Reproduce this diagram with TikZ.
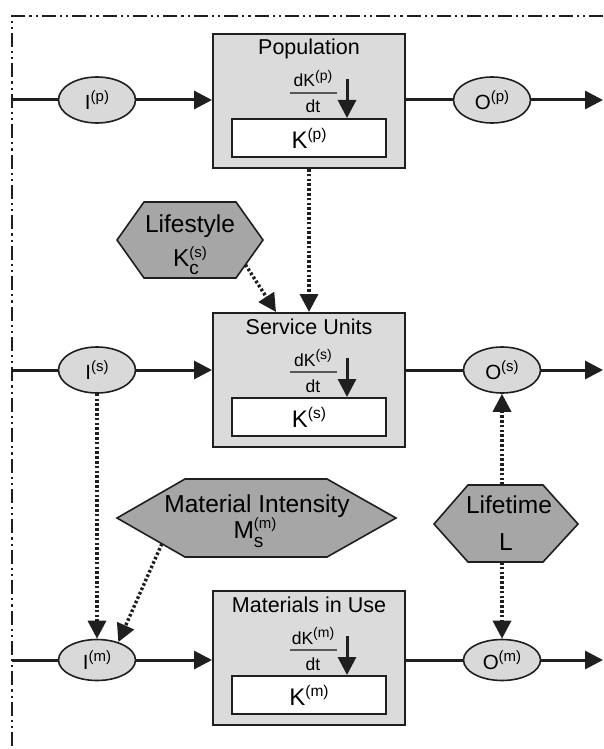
\documentclass[tikz,border=0pt]{standalone}
\usepackage{fontspec}
\setmainfont{Liberation Sans}
\usetikzlibrary{arrows.meta,shapes.geometric,calc}
\newcommand\fs[1]{\fontsize{#1}{#1}\selectfont}
\newcommand\sps[2]{\raisebox{0.38em}{\fs{#1}#2}}
% sup, sub, sup size, sub size, raise, lower
\newcommand\subsup[6]{\rlap{\raisebox{-#6pt}{\fs{#4}#2}}\raisebox{#5pt}{\fs{#3}#1}}
\definecolor{boxgray}{gray}{0.86}
\definecolor{ellgray}{gray}{0.85}
\definecolor{hexgray}{gray}{0.65}
\definecolor{ink}{gray}{0.12}
\begin{document}
\begin{tikzpicture}[x=1pt,y=-1pt,
  border/.style={draw=ink, line width=2.2pt, dash pattern=on 14pt off 4pt on 2.2pt off 4pt on 2.2pt off 4pt},
  flow/.style={draw=ink, line width=3pt},
  tip/.style={-{Triangle[length=18pt,width=18pt]}},
  dots/.style={draw=ink, line width=3.4pt, dash pattern=on 2.6pt off 2.2pt},
  ell/.style={ellipse, draw=ink, line width=1.6pt, fill=ellgray, minimum width=77pt, inner sep=0pt, font=\fs{20.5}},
  stockbox/.style={rectangle, draw=ink, line width=2pt, fill=boxgray, minimum width=192pt, minimum height=134pt, inner sep=0pt},
  innerbox/.style={rectangle, draw=ink, line width=2pt, fill=white, minimum width=154pt, minimum height=38pt, inner sep=0pt, font=\fs{24}},
  titletext/.style={inner sep=0pt, font=\fs{21.5}},
  fractext/.style={inner sep=0pt, font=\fs{17.5}},
  fracline/.style={draw=ink!75, line width=1.8pt},
  hexa/.style={draw=ink, line width=1.6pt, fill=hexgray, line join=miter},
  htext/.style={inner sep=0pt, font=\fs{24.5}},
]
\useasboundingbox (0,0) rectangle (603,749);
\fill[white] (0,0) rectangle (603,749);
% frame
\coordinate (bTL) at (12,16);
\coordinate (bTR) at (603,16);
\coordinate (bBL) at (12,749);
\draw[border] (bTR) -- (bTL) -- (bBL);

% three stock blocks with their flows
\foreach \n/\t/\y/\ox/\eh/\ttl in {p/33/100/492/46/Population, s/312/370/502/46/Service Units, m/590/660/502/41/Materials in Use}{
  \node[stockbox, anchor=north] (box\n) at (309,\t) {};
  \node[titletext, anchor=base] (ttl\n) at (309,{\t+22}) {\ttl};
  \node[fractext, anchor=base] (num\n) at (313,{\t+54}) {dK\sps{14}{(\n)}};
  \node[fractext, anchor=base] (den\n) at (313,{\t+80}) {dt};
  \coordinate (fl\n) at (290,{\t+60});
  \coordinate (fr\n) at (337,{\t+60});
  \draw[fracline] (fl\n) -- (fr\n);
  \node[innerbox] (k\n) at (309,{\t+105}) {K\sps{15.5}{(\n)}};
  \coordinate (ka\n) at (347,{\t+46});
  \draw[flow, tip] (ka\n) -- (ka\n |- k\n.north);
  \node[ell, minimum height=\eh pt] (i\n) at (97,\y) {I\sps{15}{(\n)}};
  \node[ell, minimum height=\eh pt] (o\n) at (\ox,\y) {O\sps{15}{(\n)}};
  \coordinate (l\n) at (12,\y);
  \coordinate (r\n) at (603,\y);
  \draw[flow] (l\n) -- (i\n);
  \draw[flow, tip] (i\n) -- (box\n.west |- i\n);
  \draw[flow] (box\n.east |- o\n) -- (o\n);
  \draw[flow, tip] (o\n) -- (r\n);
}

% Lifestyle hexagon
\coordinate (lsL) at (117,240);
\coordinate (lsTL) at (144,202);
\coordinate (lsTR) at (236,202);
\coordinate (lsR) at (263,240);
\coordinate (lsBR) at (236,278);
\coordinate (lsBL) at (144,278);
\draw[hexa] (lsL) -- (lsTL) -- (lsTR) -- (lsR) -- (lsBR) -- (lsBL) -- cycle;
\node[htext, anchor=base] (ls1) at (190,232) {Lifestyle};
\node[htext, anchor=base] (ls2) at (190,266) {K\subsup{(s)}{c}{15}{19}{9}{8}};
\coordinate (lsE) at ($(lsR)!0.65!(lsBR)$);

% Material Intensity hexagon
\coordinate (miL) at (117,518);
\coordinate (miTL) at (185,479);
\coordinate (miTR) at (327,479);
\coordinate (miR) at (396,518);
\coordinate (miBR) at (327,557);
\coordinate (miBL) at (185,557);
\draw[hexa] (miL) -- (miTL) -- (miTR) -- (miR) -- (miBR) -- (miBL) -- cycle;
\node[htext, anchor=base] (mi1) at (257,512) {Material Intensity};
\node[htext, anchor=base] (mi2) at (255,538) {M\subsup{(m)}{s}{15}{19}{10}{9}};
\coordinate (miE) at ($(miL)!0.66!(miBL)$);

% Lifetime hexagon
\coordinate (ltL) at (434,524);
\coordinate (ltTL) at (468,485);
\coordinate (ltTR) at (543,485);
\coordinate (ltR) at (578,524);
\coordinate (ltBR) at (543,562);
\coordinate (ltBL) at (468,562);
\draw[hexa] (ltL) -- (ltTL) -- (ltTR) -- (ltR) -- (ltBR) -- (ltBL) -- cycle;
\node[htext, anchor=base] (lt1) at (509,513) {Lifetime};
\node[htext, anchor=base] (lt2) at (506,550) {L};
\coordinate (ltT) at (502,485);
\coordinate (ltB) at (502,562);

% information (dotted) links
\coordinate (svIn) at ($(boxs.north west)+(64,0)$);
\draw[dots, tip] (boxp) -- (boxs);
\draw[dots, tip] (lsE) -- (svIn);
\draw[dots, tip] (is) -- (im);
\draw[dots, tip] (miE) -- (im.40);
\draw[dots, tip] (ltT) -- (os);
\draw[dots, tip] (ltB) -- (om);
\end{tikzpicture}
\end{document}
